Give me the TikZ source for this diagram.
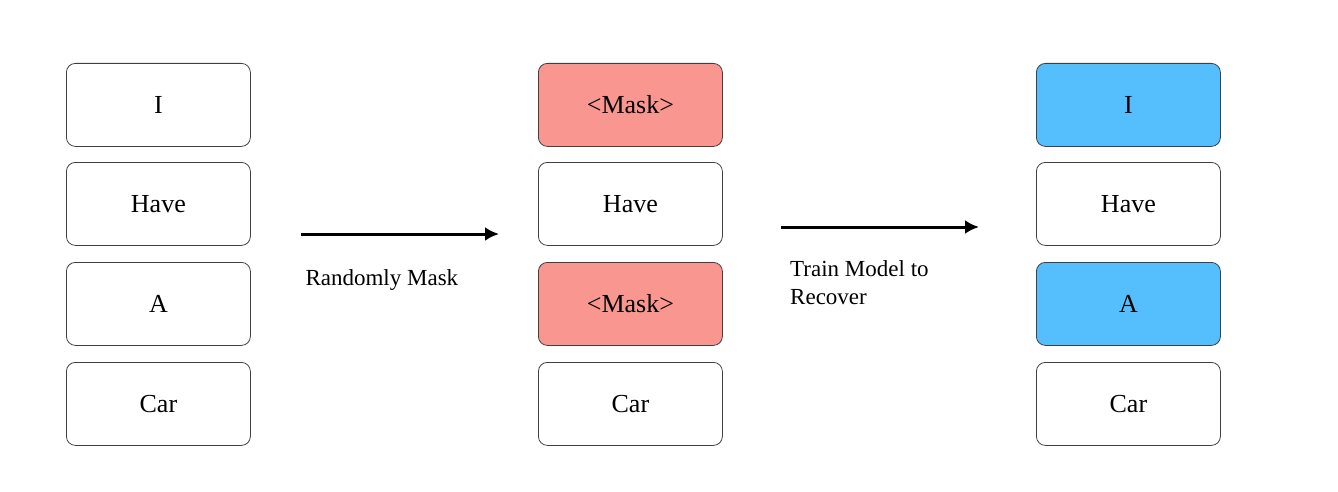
\documentclass[tikz,border=0pt]{standalone}
\usetikzlibrary{arrows.meta}
\usepackage{fontspec}
\setmainfont{Liberation Serif}
\definecolor{maskred}{HTML}{F8968F}
\definecolor{recblue}{HTML}{55BEFD}
\begin{document}
\begin{tikzpicture}[x=1pt,y=-1pt,
 tok/.style={draw=black!75,line width=0.8pt,rounded corners=9pt,minimum width=184pt,minimum height=83pt,font=\fontsize{26}{30}\selectfont,anchor=north west},
 arr/.style={line width=3pt,-{Latex[length=14pt,width=14pt]}},
 lab/.style={font=\fontsize{23}{28}\selectfont,align=left}]
\useasboundingbox (0,0) rectangle (1338,492);
\node[tok] (a1) at (66,63) {I};
\node[tok] (a2) at (66,162) {Have};
\node[tok] (a3) at (66,262) {A};
\node[tok] (a4) at (66,362) {Car};
\node[tok,fill=maskred] (b1) at (538,63) {<Mask>};
\node[tok] (b2) at (538,162) {Have};
\node[tok,fill=maskred] (b3) at (538,262) {<Mask>};
\node[tok] (b4) at (538,362) {Car};
\node[tok,fill=recblue] (c1) at (1036,63) {I};
\node[tok] (c2) at (1036,162) {Have};
\node[tok,fill=recblue] (c3) at (1036,262) {A};
\node[tok] (c4) at (1036,362) {Car};
\coordinate (p1) at (301,234); \coordinate (p2) at (499,234);
\coordinate (q1) at (781,227); \coordinate (q2) at (979,227);
\draw[arr] (p1) -- (p2);
\draw[arr] (q1) -- (q2);
\node[lab,anchor=west] (l1) at (302,280) {Randomly Mask};
\node[lab,anchor=north west,inner sep=0pt] (l2) at (790,260) {Train Model to\\Recover};
\end{tikzpicture}
\end{document}
